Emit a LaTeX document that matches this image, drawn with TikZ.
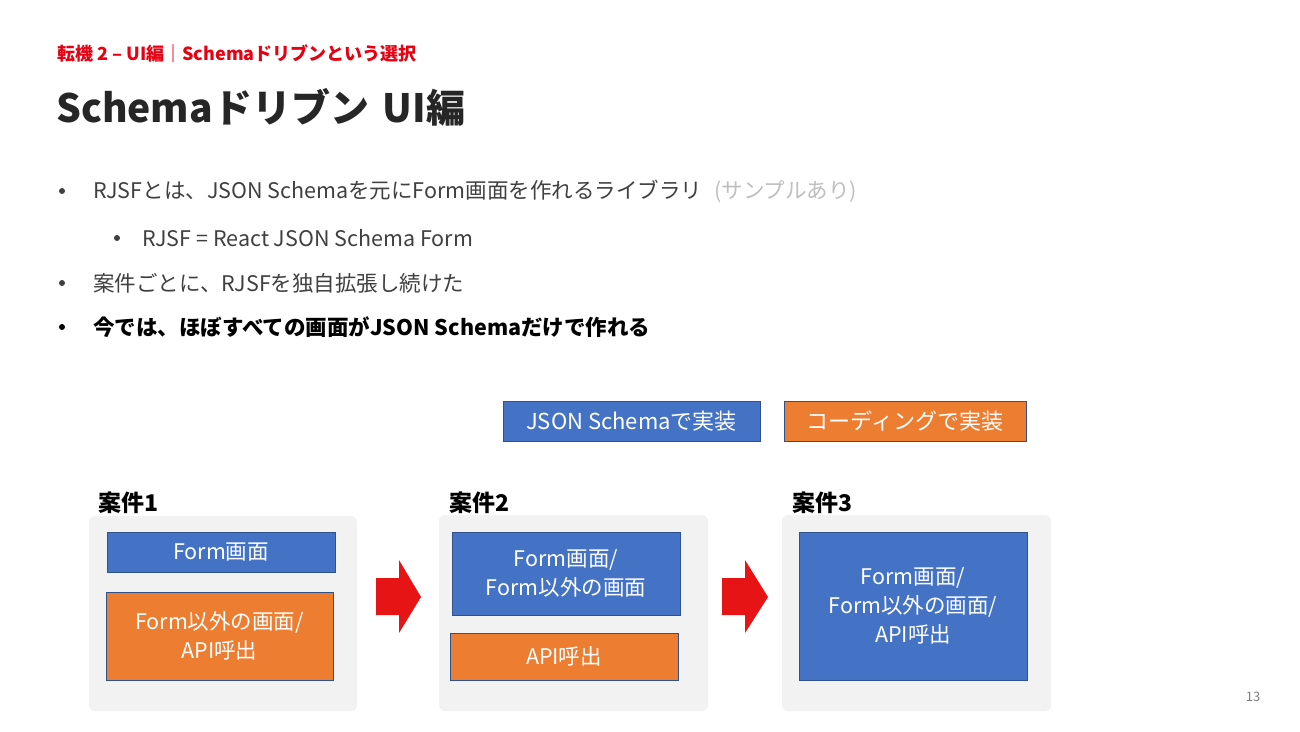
\documentclass[tikz,border=0pt]{standalone}
\usepackage{fontspec}
\setmainfont{Noto Sans CJK JP}
\definecolor{subred}{HTML}{E60012}
\definecolor{titlegray}{HTML}{262626}
\definecolor{bodygray}{HTML}{404040}
\definecolor{lightgray}{HTML}{BFBFBF}
\definecolor{boxblue}{HTML}{4472C4}
\definecolor{boxorange}{HTML}{ED7D31}
\definecolor{boxline}{HTML}{2F528F}
\definecolor{panelgray}{HTML}{F2F2F2}
\definecolor{arrowred}{HTML}{E61414}
\definecolor{pagegray}{HTML}{7F7F7F}
\tikzset{
  panel/.style={fill=panelgray, draw=none, rounded corners=6pt, inner sep=0pt},
  bluebox/.style={fill=boxblue, draw=boxline, line width=1pt, text=white, align=center, inner sep=0pt, font=\fontsize{21.5}{29}\selectfont},
  orangebox/.style={fill=boxorange, draw=boxline, line width=1pt, text=white, align=center, inner sep=0pt, font=\fontsize{21.5}{29}\selectfont},
  bodytext/.style={anchor=west, inner sep=0pt, text=bodygray, font=\fontsize{21.5}{26}\selectfont},
  bulletmark/.style={circle, fill=bodygray, draw=none, inner sep=0pt, minimum size=6pt},
  caselabel/.style={anchor=west, inner sep=0pt, text=black, font=\fontsize{23}{27}\selectfont\bfseries},
  blockarrow/.style={fill=arrowred, draw=none}
}
\begin{document}
\begin{tikzpicture}[x=1pt,y=-1pt]
\useasboundingbox[fill=white] (0,0) rectangle (1300,731);

% header
\node[anchor=west, inner sep=0pt, text=subred, font=\fontsize{18}{21}\selectfont\bfseries] (sub) at (57,54) {転機 2 – UI編｜Schemaドリブンという選択};
\node[anchor=west, inner sep=0pt, text=titlegray, font=\fontsize{39}{46}\selectfont\bfseries] (title) at (56,107) {Schemaドリブン\kern14pt UI編};

% bullets
\node[bulletmark] (b1) at (62,191) {};
\node[bodytext] (t1) at (93,191) {RJSFとは、JSON Schemaを元にForm画面を作れるライブラリ\hspace{12pt}\textcolor{lightgray}{(サンプルあり)}};
\node[bulletmark] (b2) at (117,238) {};
\node[bodytext] (t2) at (142,238) {RJSF = React JSON Schema Form};
\node[bulletmark] (b3) at (62,283) {};
\node[bodytext] (t3) at (93,283) {案件ごとに、RJSFを独自拡張し続けた};
\node[bulletmark, fill=black] (b4) at (62,327) {};
\node[bodytext, text=black, font=\fontsize{21.5}{26}\selectfont\bfseries] (t4) at (93,327) {今では、ほぼすべての画面がJSON Schemaだけで作れる};

% legend
\node[bluebox, minimum width=257pt, minimum height=40pt, font=\fontsize{22}{26}\selectfont] (legblue) at (631.5,421) {JSON Schemaで実装};
\node[orangebox, minimum width=242pt, minimum height=40pt, font=\fontsize{22}{26}\selectfont] (legorange) at (905,421) {コーディングで実装};

% case 1
\node[caselabel] (c1) at (98,503) {案件1};
\node[panel, minimum width=268pt, minimum height=195pt] (p1) at (223,613.5) {};
\node[bluebox, minimum width=228pt, minimum height=40pt] (p1form) at (221,552) {Form画面};
\node[orangebox, minimum width=227pt, minimum height=88pt] (p1other) at (219.5,636) {Form以外の画面/\\API呼出};

% case 2
\node[caselabel] (c2) at (449,503) {案件2};
\node[panel, minimum width=269pt, minimum height=196pt] (p2) at (573.5,613) {};
\node[bluebox, minimum width=228pt, minimum height=83pt] (p2form) at (566,573.5) {Form画面/\\Form以外の画面};
\node[orangebox, minimum width=228pt, minimum height=47pt] (p2api) at (564,656.5) {API呼出};

% case 3
\node[caselabel] (c3) at (792,503) {案件3};
\node[panel, minimum width=269pt, minimum height=196pt] (p3) at (916.5,613) {};
\node[bluebox, minimum width=228pt, minimum height=148pt] (p3all) at (913,606) {Form画面/\\Form以外の画面/\\API呼出};

% block arrows
\fill[blockarrow] (376,578) -- (399,578) -- (399,560) -- (421,597) -- (399,633) -- (399,615) -- (376,615) -- cycle;
\fill[blockarrow] (722,578) -- (745,578) -- (745,560) -- (768,597) -- (745,633) -- (745,615) -- (722,615) -- cycle;

% page number
\node[anchor=center, inner sep=0pt, text=pagegray, font=\fontsize{13}{15}\selectfont] (page) at (1253,697) {13};
\end{tikzpicture}
\end{document}
